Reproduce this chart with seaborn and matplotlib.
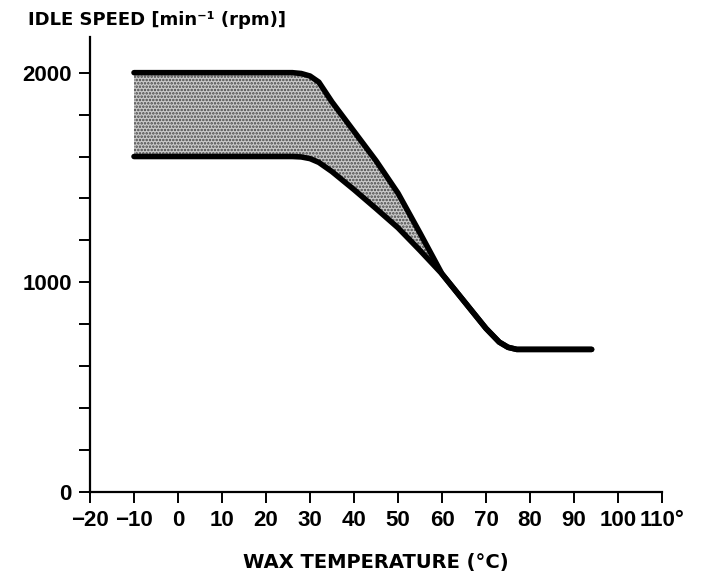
import numpy as np
import pandas as pd
import seaborn as sns
import matplotlib.pyplot as plt
from matplotlib.ticker import MultipleLocator

# wax temperature (deg C) and idle speed band limits (rpm)
temps = [-10, 26, 28, 30, 32, 35, 40, 45, 50, 55, 60, 65, 70, 73, 75, 77, 94]
upper_rpm = [2000, 2000, 1996, 1984, 1955, 1860, 1720, 1580, 1425, 1235, 1040, 910, 780, 715, 690, 680, 680]
lower_rpm = [1600, 1600, 1598, 1590, 1572, 1528, 1442, 1352, 1260, 1152, 1040, 910, 780, 715, 690, 680, 680]

x_ticks = [-20, -10, 0, 10, 20, 30, 40, 50, 60, 70, 80, 90, 100, 110]
x_tick_labels = ['\u221220', '\u221210', '0', '10', '20', '30', '40', '50', '60', '70', '80', '90', '100', '110\u00b0']
y_ticks = [0, 1000, 2000]

df = pd.DataFrame({'temp': temps, 'upper': upper_rpm, 'lower': lower_rpm})

sns.set_style('ticks')
plt.rcParams['font.family'] = ['DejaVu Sans']
plt.rcParams['hatch.linewidth'] = 1.2
plt.rcParams['text.color'] = 'black'
plt.rcParams['xtick.color'] = 'black'
plt.rcParams['ytick.color'] = 'black'

fig = plt.figure(figsize=(7.11, 5.73), dpi=100)
ax = fig.add_axes([0.1266, 0.1414, 0.8045, 0.794])

ax.fill_between(df['temp'], df['lower'], df['upper'], facecolor='#cacaca',
                hatch='.....', edgecolor='#444444', linewidth=0)
sns.lineplot(data=df, x='temp', y='upper', ax=ax, color='black', linewidth=4,
             sort=False, estimator=None)
sns.lineplot(data=df, x='temp', y='lower', ax=ax, color='black', linewidth=4,
             sort=False, estimator=None)

tick_font = dict(family=['Liberation Sans', 'DejaVu Sans'], size=16, weight='bold')
ax.set_xlim(-20, 110)
ax.set_ylim(0, 2170)
ax.set_xticks(x_ticks)
ax.set_xticklabels(x_tick_labels, fontdict=tick_font)
ax.set_yticks(y_ticks)
ax.set_yticklabels([str(v) for v in y_ticks], fontdict=tick_font)
ax.yaxis.set_minor_locator(MultipleLocator(200))
ax.tick_params(axis='both', which='both', direction='out', length=8, width=1.4, color='black', pad=5)

for side in ['top', 'right']:
    ax.spines[side].set_visible(False)
for side in ['left', 'bottom']:
    ax.spines[side].set_linewidth(1.6)
    ax.spines[side].set_color('black')

ax.set_xlabel('WAX TEMPERATURE (\u00b0C)', fontsize=14, fontweight='bold', labelpad=16, color='black')
ax.set_ylabel('')
fig.text(0.039, 0.965, 'IDLE SPEED [min\u207b\u00b9 (rpm)]', fontsize=13, fontweight='bold',
         ha='left', va='center', color='black')

fig.savefig('out.png', dpi=100, facecolor='white')
